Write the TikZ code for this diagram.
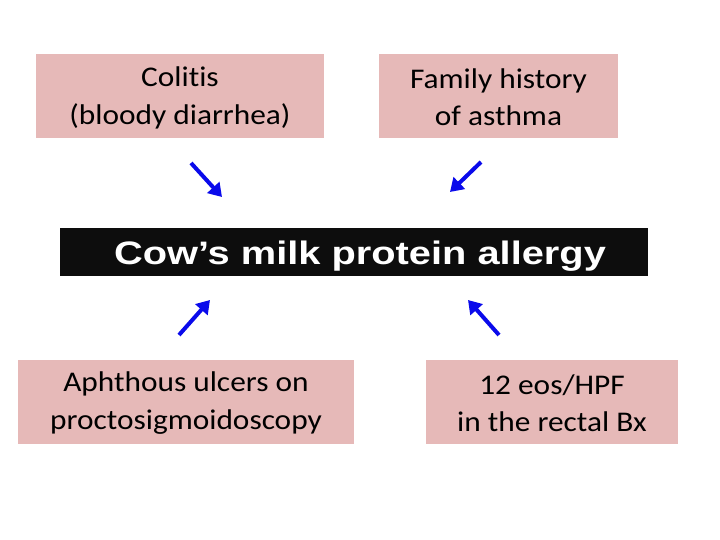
\documentclass[tikz,border=0pt]{standalone}
\usepackage{fontspec}
\usetikzlibrary{arrows.meta}
\newfontfamily\boxfont[FakeStretch=1.1,Ligatures=NoCommon]{Carlito}
\newfontfamily\titlefont[FakeStretch=1.225]{Liberation Sans}
\definecolor{pinkfill}{RGB}{230,185,184}
\definecolor{arrowblue}{RGB}{10,10,235}
\tikzset{
  pinkbox/.style={draw=none, fill=pinkfill, inner sep=0pt},
  boxtext/.style={inner sep=0pt, align=center,
    font=\boxfont\fontsize{28.5}{37.5}\selectfont, text=black},
  titlebox/.style={draw=none, fill=black!95, inner sep=0pt},
  titletext/.style={inner sep=0pt, text=white,
    font=\titlefont\bfseries\fontsize{32.5}{36}\selectfont},
  bluearrow/.style={draw=arrowblue, line width=4pt, -{Triangle[length=13pt,width=16pt]}}
}
\begin{document}
\begin{tikzpicture}[x=1pt,y=-1pt]
\useasboundingbox (0,0) rectangle (720,540);
\node[pinkbox, minimum width=288pt, minimum height=84pt] (colitis) at (180,96) {};
\node[boxtext] (colitis-t) at ([yshift=-2pt]colitis.center) {Colitis\\(bloody diarrhea)};
\node[pinkbox, minimum width=239pt, minimum height=84pt] (family) at (498.5,96) {};
\node[boxtext] (family-t) at ([yshift=-1pt]family.center) {Family history\\of asthma};
\node[titlebox, minimum width=588pt, minimum height=48pt] (cmpa) at (354,252) {};
\node[titletext] (cmpa-t) at ([xshift=6pt,yshift=-4pt]cmpa.center) {Cow’s milk protein allergy};
\node[pinkbox, minimum width=336pt, minimum height=84pt] (aphthous) at (186,402) {};
\node[boxtext] (aphthous-t) at ([yshift=-1pt]aphthous.center) {Aphthous ulcers on\\proctosigmoidoscopy};
\node[pinkbox, minimum width=252pt, minimum height=84pt] (eos) at (552,402) {};
\node[boxtext] (eos-t) at ([yshift=-1pt]eos.center) {12 eos/HPF\\in the rectal Bx};
\coordinate (a1s) at (191,163);
\coordinate (a1e) at (222,197);
\coordinate (a2s) at (481,162);
\coordinate (a2e) at (450,192);
\coordinate (a3s) at (179,335);
\coordinate (a3e) at (210,300);
\coordinate (a4s) at (499,335);
\coordinate (a4e) at (468,300);
\draw[bluearrow] (a1s) -- (a1e);
\draw[bluearrow] (a2s) -- (a2e);
\draw[bluearrow] (a3s) -- (a3e);
\draw[bluearrow] (a4s) -- (a4e);
\end{tikzpicture}
\end{document}
